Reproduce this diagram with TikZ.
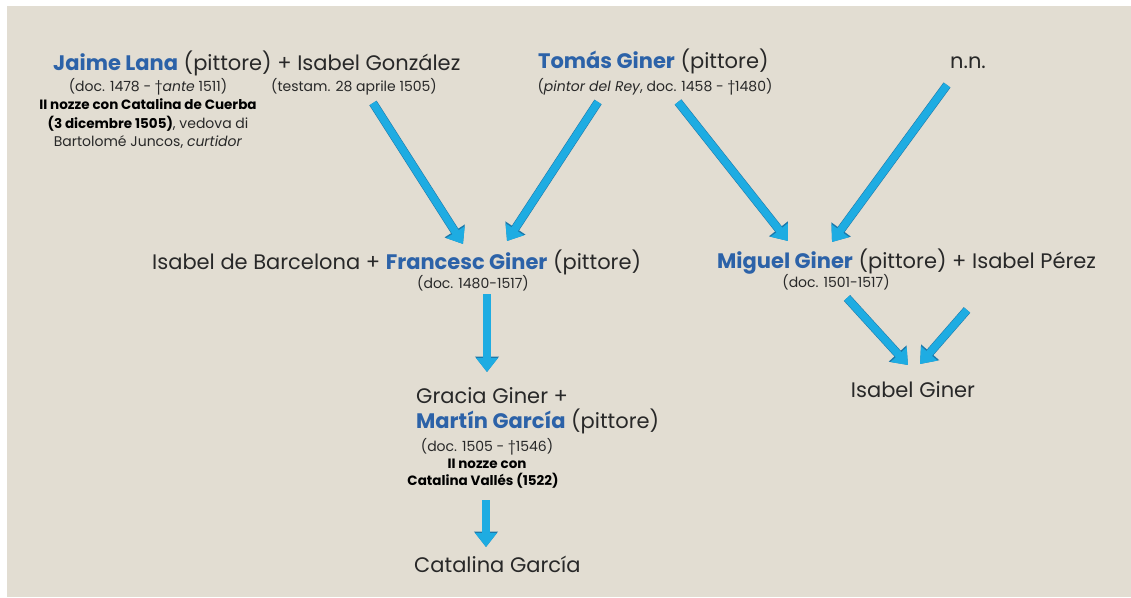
\documentclass[tikz,border=0pt]{standalone}
\usepackage{fontspec}
\setmainfont{Poppins}
\usetikzlibrary{arrows.meta}

\definecolor{paper}{RGB}{226,221,210}
\definecolor{nameblue}{RGB}{44,98,168}
\definecolor{inkgrey}{RGB}{40,40,40}
\definecolor{arrowfill}{RGB}{30,172,226}
\definecolor{arrowedge}{RGB}{28,120,170}

\newcommand\pname[1]{\textbf{\color{nameblue}#1}}

\tikzset{
  big/.style={inner sep=0pt, text=inkgrey, font=\fontsize{21}{24}\selectfont},
  small/.style={inner sep=0pt, text=inkgrey, font=\fontsize{14}{16}\selectfont},
  note/.style={inner sep=0pt, text=black, font=\fontsize{13.5}{16}\selectfont\bfseries},
  blockarrow/.style={
    draw=arrowfill, line width=7.5pt,
    -{Triangle[length=14pt,width=21pt]},
    preaction={draw=arrowedge, line width=8.6pt, -{Triangle[length=15.5pt,width=23pt]}}
  }
}

\begin{document}
\begin{tikzpicture}[x=1pt,y=-1pt]
  \useasboundingbox (0,0) rectangle (1131,597);
  \fill[white] (0,0) rectangle (1131,597);
  \fill[paper] (7,6) rectangle (1131,597);

  % first generation
  \node[big, anchor=base west] (jaime) at (53,70) {\pname{Jaime Lana} (pittore) + Isabel González};
  \node[small, anchor=base] (jaimedoc) at (148,91) {(doc. 1478 - †\textit{ante} 1511)};
  \node[note, anchor=base] (jaimenoteA) at (148,109) {II nozze con Catalina de Cuerba};
  \node[small, anchor=base] (jaimenoteB) at (148,128) {\textbf{\color{black}\fontsize{13.5}{16}\selectfont(3 dicembre 1505)}, vedova di};
  \node[small, anchor=base] (jaimenoteC) at (148,146) {Bartolomé Juncos, \textit{curtidor}};
  \node[small, anchor=base] (isabeldoc) at (354,91) {(testam. 28 aprile 1505)};

  \node[big, anchor=base west] (tomas) at (538,68) {\pname{Tomás Giner} (pittore)};
  \node[small, anchor=base] (tomasdoc) at (655,91) {(\textit{pintor del Rey}, doc. 1458 - †1480)};

  \node[big, anchor=base] (nn) at (968,68) {n.n.};

  % second generation
  \node[big, anchor=base west] (francesc) at (152,269) {Isabel de Barcelona + \pname{Francesc Giner} (pittore)};
  \node[small, anchor=base] (francescdoc) at (473,288) {(doc. 1480-1517)};

  \node[big, anchor=base west] (miguel) at (717,268) {\pname{Miguel Giner} (pittore) + Isabel Pérez};
  \node[small, anchor=base] (migueldoc) at (836,287) {(doc. 1501-1517)};

  % third generation
  \node[big, anchor=base west] (gracia) at (416,403) {Gracia Giner +};
  \node[big, anchor=base west] (martin) at (416,428) {\pname{Martín García} (pittore)};
  \node[small, anchor=base] (martindoc) at (487,451) {(doc. 1505 - †1546)};
  \node[note, anchor=base] (martinnoteA) at (487,468) {II nozze con};
  \node[note, anchor=base] (martinnoteB) at (483,485) {Catalina Vallés (1522)};

  \node[big, anchor=base] (isabelg) at (913,397) {Isabel Giner};

  % fourth generation
  \node[big, anchor=base west] (catalina) at (414,572) {Catalina García};

  % arrow end points
  \coordinate (a1s) at (373,103);  \coordinate (a1e) at (463,244);
  \coordinate (a2s) at (598,102);  \coordinate (a2e) at (507,241);
  \coordinate (a3s) at (678,102);  \coordinate (a3e) at (788,241);
  \coordinate (a4s) at (947,85);   \coordinate (a4e) at (832,242);
  \coordinate (a5s) at (487,294);  \coordinate (a5e) at (487,372);
  \coordinate (a6s) at (486,500);  \coordinate (a6e) at (486,547);
  \coordinate (a7s) at (847,298);  \coordinate (a7e) at (908,365);
  \coordinate (a8s) at (967,310);  \coordinate (a8e) at (920,364);

  % descent arrows
  \draw[blockarrow] (a1s) -- (a1e);
  \draw[blockarrow] (a2s) -- (a2e);
  \draw[blockarrow] (a3s) -- (a3e);
  \draw[blockarrow] (a4s) -- (a4e);
  \draw[blockarrow] (a5s) -- (a5e);
  \draw[blockarrow] (a6s) -- (a6e);
  \draw[blockarrow] (a7s) -- (a7e);
  \draw[blockarrow] (a8s) -- (a8e);
\end{tikzpicture}
\end{document}
